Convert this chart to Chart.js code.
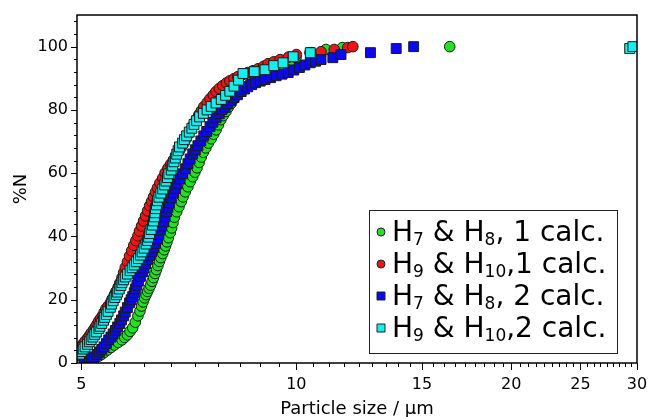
<!DOCTYPE html>
<html>
<head>
<meta charset="utf-8">
<script src="https://cdn.jsdelivr.net/npm/chart.js@4.4.0/dist/chart.umd.min.js"></script>
<style>
  html, body { margin: 0; padding: 0; background: #fff; }
  #chart { display: block; }
</style>
</head>
<body>
<canvas id="chart" width="650" height="417"></canvas>
<script>
// tick positions
const xMajorTicks = [5, 10, 15, 20, 25, 30];
const xMinorTicks = [
  5.556, 6.111, 6.667, 7.222, 7.778, 8.333, 8.889, 9.444,
  10.556, 11.111, 11.667, 12.222, 12.778, 13.333, 13.889, 14.444,
  15.556, 16.111, 16.667, 17.222, 17.778, 18.333, 18.889, 19.444,
  20.556, 21.111, 21.667, 22.222, 22.778, 23.333, 23.889, 24.444,
  25.556, 26.111, 26.667, 27.222, 27.778, 28.333, 28.889, 29.444
];
const yMajorTicks = [0, 20, 40, 60, 80, 100];
const yMinorTicks = [4, 8, 12, 16, 24, 28, 32, 36, 44, 48, 52, 56, 64, 68, 72, 76, 84, 88, 92, 96, 104, 108];

const seriesLabels = ['H_7 & H_8, 1 calc.', 'H_9 & H_10,1 calc.', 'H_7 & H_8, 2 calc.', 'H_9 & H_10,2 calc.'];

// H7 & H8, 1 calc.
const green1X = [5.20, 5.23, 5.28, 5.33, 5.38, 5.44, 5.50, 5.56, 5.63, 5.70, 5.75, 5.80, 5.85, 5.90, 5.95, 6.00, 6.04, 6.07, 6.10, 6.13,
  6.16, 6.19, 6.22, 6.25, 6.28, 6.31, 6.34, 6.37, 6.40, 6.43, 6.46, 6.50, 6.53, 6.56, 6.59, 6.62, 6.66, 6.69, 6.72, 6.75,
  6.80, 6.85, 6.90, 6.94, 6.99, 7.05, 7.10, 7.16, 7.21, 7.26, 7.31, 7.36, 7.41, 7.47, 7.53, 7.60, 7.66, 7.72, 7.78, 7.84,
  7.90, 7.97, 8.03, 8.10, 8.17, 8.24, 8.34, 8.45, 8.59, 8.73, 8.87, 9.01, 9.17, 9.34, 9.51, 9.68, 9.84, 9.99, 10.5, 11.0,
  11.6, 16.4];
const green1Y = [0.9, 1.6, 2.1, 2.6, 3.3, 4.1, 4.9, 5.7, 6.5, 7.3, 8.1, 8.9, 10.0, 11.1, 12.9, 14.9, 16.4, 18.0, 19.3, 20.6,
  21.6, 22.6, 23.6, 24.6, 25.8, 27.0, 28.3, 29.5, 30.8, 32.1, 33.3, 34.6, 35.8, 37.0, 38.3, 39.6, 41.2, 42.7, 44.4, 46.1,
  47.8, 49.4, 51.0, 52.5, 54.1, 55.7, 57.3, 58.9, 60.3, 61.7, 63.4, 65.1, 66.6, 68.0, 69.5, 70.9, 72.3, 73.7, 75.3, 76.9,
  78.2, 79.5, 80.8, 82.0, 83.3, 84.5, 85.8, 87.0, 88.1, 89.2, 90.2, 91.1, 91.9, 92.7, 93.8, 94.9, 95.7, 96.5, 98.1, 99.1,
  99.7, 100];

// H9 & H10, 1 calc.
const red1X = [4.93, 4.95, 4.97, 5.00, 5.03, 5.06, 5.10, 5.13, 5.16, 5.20, 5.23, 5.26, 5.29, 5.32, 5.35, 5.38, 5.41, 5.45, 5.49, 5.52,
  5.56, 5.59, 5.63, 5.66, 5.70, 5.73, 5.76, 5.80, 5.84, 5.88, 5.92, 5.96, 6.00, 6.03, 6.07, 6.11, 6.15, 6.19, 6.23, 6.27,
  6.31, 6.35, 6.39, 6.44, 6.50, 6.55, 6.61, 6.67, 6.73, 6.79, 6.85, 6.90, 6.95, 7.00, 7.06, 7.12, 7.18, 7.24, 7.30, 7.36,
  7.42, 7.50, 7.57, 7.65, 7.72, 7.80, 7.89, 7.98, 8.07, 8.18, 8.28, 8.42, 8.55, 8.70, 8.84, 9.00, 9.13, 9.30, 9.49, 9.75,
  10.0, 10.45, 10.83, 11.3, 11.8, 12.0];
const red1Y = [2.2, 3.2, 4.3, 5.3, 6.1, 6.9, 7.8, 8.6, 9.5, 10.5, 11.4, 12.3, 13.3, 14.1, 14.9, 16.0, 17.1, 18.0, 19.0, 20.2,
  21.5, 22.6, 24.0, 25.3, 27.0, 28.6, 30.2, 32.0, 33.8, 35.5, 37.2, 38.7, 40.2, 41.7, 43.3, 44.9, 46.5, 48.1, 49.7, 51.1,
  52.5, 54.0, 55.4, 56.9, 58.5, 60.1, 61.6, 62.9, 64.2, 65.5, 66.8, 68.0, 69.3, 70.7, 72.2, 73.7, 75.3, 76.9, 78.4, 79.7,
  81.0, 82.3, 83.5, 84.7, 85.8, 86.8, 87.7, 88.5, 89.2, 89.9, 90.5, 91.2, 91.8, 92.4, 93.0, 93.8, 94.6, 95.2, 95.9, 96.7,
  97.5, 98.1, 98.4, 99.1, 99.7, 100];

// H7 & H8, 2 calc.
const blue2X = [5.05, 5.09, 5.13, 5.17, 5.21, 5.26, 5.30, 5.34, 5.38, 5.42, 5.46, 5.50, 5.54, 5.58, 5.62, 5.66, 5.69, 5.73, 5.76, 5.80,
  5.84, 5.87, 5.90, 5.93, 5.95, 5.98, 6.01, 6.05, 6.09, 6.12, 6.15, 6.19, 6.23, 6.27, 6.31, 6.35, 6.39, 6.42, 6.45, 6.48,
  6.52, 6.55, 6.58, 6.61, 6.64, 6.68, 6.73, 6.77, 6.81, 6.87, 6.93, 6.99, 7.05, 7.10, 7.16, 7.22, 7.28, 7.35, 7.42, 7.49,
  7.57, 7.64, 7.72, 7.80, 7.87, 7.95, 8.02, 8.10, 8.18, 8.27, 8.37, 8.46, 8.55, 8.66, 8.77, 8.90, 9.04, 9.20, 9.37, 9.55,
  9.74, 9.92, 10.1, 10.28, 10.46, 10.64, 10.83, 11.25, 11.55, 12.7, 13.8, 14.6];
const blue2Y = [0.3, 0.6, 0.9, 1.4, 1.9, 2.7, 3.5, 4.3, 5.1, 6.2, 7.3, 8.2, 9.2, 10.3, 11.4, 12.5, 13.6, 14.9, 16.1, 17.5,
  19.0, 20.0, 21.0, 22.2, 23.4, 24.6, 25.9, 27.4, 28.8, 30.0, 31.3, 32.6, 33.9, 35.1, 36.4, 37.8, 39.2, 40.6, 42.1, 43.3,
  44.6, 46.2, 47.8, 49.2, 50.6, 52.2, 53.8, 55.2, 56.6, 58.2, 59.8, 61.4, 63.0, 64.5, 66.1, 67.4, 68.7, 70.2, 71.8, 73.2,
  74.7, 76.1, 77.5, 78.8, 80.1, 81.0, 82.0, 82.9, 83.9, 84.8, 85.8, 86.6, 87.3, 88.0, 88.6, 89.1, 89.6, 90.2, 90.8, 91.3,
  91.8, 92.6, 93.4, 94.2, 94.9, 95.4, 95.9, 96.5, 97.5, 98.1, 99.4, 100];

// H9 & H10, 2 calc.
const cyan2X = [4.97, 5.00, 5.03, 5.06, 5.10, 5.13, 5.16, 5.19, 5.22, 5.25, 5.29, 5.31, 5.34, 5.37, 5.39, 5.42, 5.45, 5.49, 5.51, 5.54,
  5.57, 5.60, 5.62, 5.65, 5.68, 5.70, 5.73, 5.76, 5.80, 5.85, 5.89, 5.93, 5.97, 6.01, 6.05, 6.08, 6.12, 6.16, 6.19, 6.21,
  6.23, 6.26, 6.29, 6.31, 6.33, 6.34, 6.35, 6.37, 6.39, 6.42, 6.46, 6.50, 6.54, 6.57, 6.60, 6.63, 6.68, 6.71, 6.74, 6.77,
  6.80, 6.83, 6.86, 6.93, 6.97, 7.02, 7.08, 7.14, 7.19, 7.25, 7.32, 7.41, 7.50, 7.60, 7.72, 7.85, 7.96, 8.07, 8.18, 8.30,
  8.42, 8.73, 9.04, 9.30, 9.58, 9.90, 10.46, 29.3, 29.6];
const cyan2Y = [2.8, 3.6, 4.4, 5.1, 5.9, 6.7, 7.4, 8.2, 9.0, 9.8, 10.9, 11.6, 12.5, 13.5, 14.4, 15.3, 16.3, 17.6, 18.6, 19.7,
  20.7, 21.6, 22.4, 23.4, 24.5, 25.4, 26.3, 27.2, 28.1, 29.2, 30.1, 31.0, 32.0, 33.0, 34.1, 35.1, 36.3, 37.6, 38.7, 39.8,
  40.9, 42.2, 43.6, 44.9, 46.2, 47.5, 48.8, 50.0, 51.3, 52.4, 53.7, 55.0, 56.3, 57.5, 58.6, 59.8, 61.0, 62.3, 63.6, 64.8,
  66.0, 67.1, 68.3, 69.5, 70.6, 71.8, 73.0, 74.2, 75.4, 76.6, 77.8, 78.9, 80.0, 81.1, 82.2, 83.3, 84.6, 85.9, 87.5, 89.4,
  91.5, 92.1, 92.7, 94.0, 94.9, 96.8, 98.1, 99.4, 100];

const toPoints = (xs, ys) => xs.map((x, i) => ({ x: x, y: ys[i] }));
const FONT = '"DejaVu Sans", sans-serif';

// frame + tick marks drawn by hand (Chart.js has no minor ticks)
const axisTicks = {
  id: 'axisTicks',
  afterDraw(chart) {
    const ctx = chart.ctx;
    const a = chart.chartArea;
    const xs = chart.scales.x, ys = chart.scales.y;
    ctx.save();
    ctx.strokeStyle = '#000';
    ctx.lineWidth = 1.5;
    ctx.strokeRect(a.left, a.top, a.right - a.left, a.bottom - a.top);
    ctx.lineWidth = 1;
    ctx.beginPath();
    xMajorTicks.forEach(v => { const p = Math.round(xs.getPixelForValue(v)) + 0.5; ctx.moveTo(p, a.bottom); ctx.lineTo(p, a.bottom + 7); });
    xMinorTicks.forEach(v => { const p = Math.round(xs.getPixelForValue(v)) + 0.5; ctx.moveTo(p, a.bottom); ctx.lineTo(p, a.bottom + 4); });
    yMajorTicks.forEach(v => { const p = Math.round(ys.getPixelForValue(v)) + 0.5; ctx.moveTo(a.left, p); ctx.lineTo(a.left - 6, p); });
    yMinorTicks.forEach(v => { const p = Math.round(ys.getPixelForValue(v)) + 0.5; ctx.moveTo(a.left, p); ctx.lineTo(a.left - 3, p); });
    ctx.stroke();
    ctx.restore();
  }
};

// boxed legend with subscripts
const boxLegend = {
  id: 'boxLegend',
  afterDatasetsDraw(chart) {
    const ctx = chart.ctx;
    ctx.save();
    ctx.fillStyle = '#fff';
    ctx.fillRect(369, 210, 248, 143);
    ctx.strokeStyle = '#222';
    ctx.lineWidth = 1;
    ctx.strokeRect(369.5, 210.5, 248, 143);
    chart.data.datasets.forEach((ds, i) => {
      const base = 241 + i * 32;
      const cy = base - 9;
      ctx.fillStyle = ds.backgroundColor;
      ctx.strokeStyle = '#222';
      ctx.beginPath();
      if (ds.pointStyle === 'circle') {
        ctx.arc(381, cy, 4, 0, Math.PI * 2);
      } else {
        ctx.rect(377, cy - 4, 8, 8);
      }
      ctx.fill();
      ctx.stroke();

      ctx.fillStyle = '#000';
      ctx.textBaseline = 'alphabetic';
      let x = 392;
      ds.label.split(/(_\d+)/).forEach(part => {
        if (!part) return;
        if (part[0] === '_') {
          const t = part.slice(1);
          ctx.font = '17px ' + FONT;
          ctx.fillText(t, x, base + 4);
          x += ctx.measureText(t).width;
        } else {
          ctx.font = '28px ' + FONT;
          ctx.fillText(part, x, base);
          x += ctx.measureText(part).width;
        }
      });
    });
    ctx.restore();
  }
};

new Chart(document.getElementById('chart'), {
  type: 'scatter',
  data: {
    datasets: [
      { label: seriesLabels[0], data: toPoints(green1X, green1Y), pointStyle: 'circle', pointRadius: 5.3,
        backgroundColor: '#22e022', borderColor: '#1a1a1a', borderWidth: 1, order: 4 },
      { label: seriesLabels[1], data: toPoints(red1X, red1Y), pointStyle: 'circle', pointRadius: 5.3,
        backgroundColor: '#f01414', borderColor: '#1a1a1a', borderWidth: 1, order: 3 },
      { label: seriesLabels[2], data: toPoints(blue2X, blue2Y), pointStyle: 'rect', pointRadius: 7,
        backgroundColor: '#0a0aee', borderColor: '#1a1a1a', borderWidth: 1, order: 2 },
      { label: seriesLabels[3], data: toPoints(cyan2X, cyan2Y), pointStyle: 'rect', pointRadius: 7,
        backgroundColor: '#14eeee', borderColor: '#1a1a1a', borderWidth: 1, order: 1 }
    ]
  },
  options: {
    responsive: false,
    animation: false,
    devicePixelRatio: 1,
    layout: { padding: { left: 0, right: 13, top: 15, bottom: 0 } },
    plugins: { legend: { display: false }, tooltip: { enabled: false } },
    scales: {
      x: {
        type: 'logarithmic',
        min: 4.93,
        max: 30,
        afterBuildTicks: s => { s.ticks = xMajorTicks.map(v => ({ value: v })); },
        afterFit: s => { s.height = 54; s.paddingLeft = 0; s.paddingRight = 0; },
        grid: { display: false, drawTicks: false },
        border: { display: false },
        ticks: { autoSkip: false, maxRotation: 0, padding: 12, color: '#000',
                 font: { family: FONT, size: 16 }, callback: v => String(v) },
        title: { display: true, text: 'Particle size / µm', color: '#000',
                 font: { family: FONT, size: 18, lineHeight: 0.9 }, padding: { top: 0, bottom: 0 } }
      },
      y: {
        min: 0,
        max: 110,
        afterBuildTicks: s => { s.ticks = yMajorTicks.map(v => ({ value: v })); },
        afterFit: s => { s.width = 77; s.paddingTop = 0; s.paddingBottom = 0; },
        grid: { display: false, drawTicks: false },
        border: { display: false },
        ticks: { autoSkip: false, padding: 9, color: '#000', font: { family: FONT, size: 16 } },
        title: { display: true, text: '%N', color: '#000',
                 font: { family: FONT, size: 18, lineHeight: 1 }, padding: { top: 12, bottom: 0 } }
      }
    }
  },
  plugins: [axisTicks, boxLegend]
});
</script>
</body>
</html>
